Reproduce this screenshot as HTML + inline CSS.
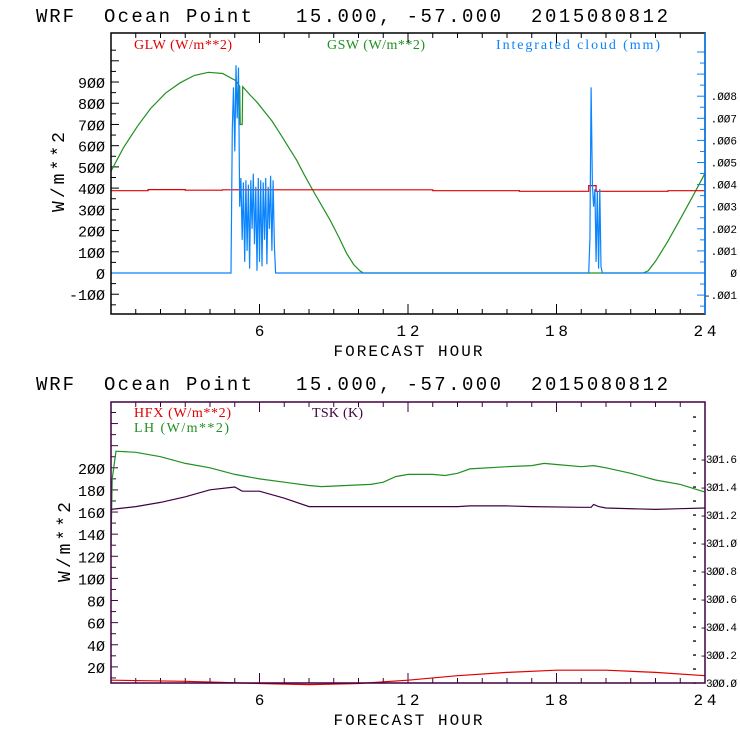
<!DOCTYPE html>
<html><head><meta charset="utf-8"><style>
html,body{margin:0;padding:0;background:#fff;}
svg{display:block;}
text{font-family:"Liberation Mono",monospace;}
.ser{font-family:"Liberation Serif",serif;}
</style></head><body>
<svg id="s" width="740" height="740" viewBox="0 0 740 740">
<g id="g1"></g>
<g id="g2"></g>
</svg>
<script>
// ---- top chart data ----
const glwHours=[0,1.5,1.5,3,3,4.5,4.5,13,13,16.5,16.5,19.3,19.3,19.6,19.6,22.5,22.5,24];
const glwVals=[388,388,393,393,390,390,392,392,388,388,385,385,412,412,385,385,388,388];
const gswHours=[0,0.5,1.07,1.6,2.22,2.8,3.37,3.94,4.51,5.03,5.2,5.22,5.3,5.32,5.62,5.9,6.15,6.5,6.83,7.15,7.5,7.8,8.15,8.5,8.85,9.2,9.52,9.8,10.06,10.2,21.5,21.7,22,22.5,23,23.5,24];
const gswVals=[480,590,692,775,849,897,931,946,940,907,880,700,700,878,839,805,768,717,658,597,532,465,391,320,250,170,93,40,10,0,0,10,55,150,255,360,470];
const cloudHours=[0,4.85,4.9,4.95,5.0,5.05,5.1,5.15,5.2,5.25,5.3,5.35,5.4,5.45,5.5,5.55,5.6,5.65,5.7,5.75,5.8,5.85,5.9,5.95,6.0,6.05,6.1,6.15,6.2,6.25,6.3,6.35,6.4,6.45,6.5,6.55,6.6,6.65,19.3,19.35,19.4,19.45,19.5,19.55,19.6,19.65,19.7,19.75,19.8,19.85,24];
const cloudVals=[0,0,.0065,.0084,.0055,.0094,.0070,.0093,.0030,.0043,.0015,.0041,.0005,.0042,.0010,.0040,.0002,.0042,.0020,.0045,.0013,.0039,.0001,.0043,.0005,.0042,.0003,.0041,.0015,.0043,.0004,.0039,.0020,.0044,.0010,.0042,.0012,0,0,.0015,.0084,.0040,.0030,.0038,.0005,.0037,.0002,.0038,.0003,0,0];
const topLeftTicks=[-100,0,100,200,300,400,500,600,700,800,900];
const topRightTicks=[-0.001,0,0.001,0.002,0.003,0.004,0.005,0.006,0.007,0.008];
const topRightLabels=["-.001","0",".001",".002",".003",".004",".005",".006",".007",".008"];
const xTicks=[6,12,18,24];
// ---- bottom chart data ----
const hfxHours=[0,3,6,8,10,12,14,16,18,19.4,20,22,24];
const hfxVals=[8,7,5,4,5,8,12,15,17,17,17,15,12];
const lhHours=[0,0.05,0.2,1,2,3,4,5,5.5,6,7,8,8.5,9.5,10.5,11,11.5,12,13,13.5,14,14.5,16,17,17.5,18,19,19.5,20,21,22,23,24];
const lhVals=[130,190,215,214,210,204,200,194,192,190,187,184,183,184,185,187,192,194,194,193,195,199,201,202,204,203,201,202,200,195,189,185,178];
const tskHours=[0,1,2,3,4,5,5.3,6,7,8,10,14,14.5,16,17,19,19.4,19.5,19.7,20,22,23,24];
const tskVals=[301.24,301.26,301.29,301.33,301.38,301.40,301.37,301.37,301.32,301.26,301.26,301.26,301.265,301.265,301.26,301.255,301.255,301.275,301.26,301.25,301.24,301.245,301.25];
const botLeftTicks=[20,40,60,80,100,120,140,160,180,200];
const botRightTicks=[300.0,300.2,300.4,300.6,300.8,301.0,301.2,301.4,301.6];
const botRightLabels=["300.0","-300.2","-300.4","-300.6","-300.8","-301.0","-301.2","-301.4","-301.6"];

const NS="http://www.w3.org/2000/svg";
function mk(parent,tag,attrs){const e=document.createElementNS(NS,tag);for(const k in attrs)e.setAttribute(k,attrs[k]);parent.appendChild(e);return e;}
function txt(parent,x,y,s,size,fill,len,anchor,cls){const t=mk(parent,'text',{x:x,y:y,'font-size':size,fill:fill});if(len)t.setAttribute('textLength',len);if(anchor)t.setAttribute('text-anchor',anchor);if(cls)t.setAttribute('class',cls);t.textContent=s;return t;}
const X0=111,X1=705;
const xs=h=>X0+h*(X1-X0)/24;
function line(g,hours,vals,ys,color,name){
  const p=mk(g,'polyline',{points:hours.map((h,i)=>xs(h).toFixed(1)+','+ys(vals[i]).toFixed(1)).join(' '),fill:'none',stroke:color,'stroke-width':1.2});
  
  
}
function title(g,y0){
  const t1=txt(g,36,y0,'WRF',19,'#000',38);
  
  const t2=txt(g,104,y0,'Ocean Point',19,'#000',148);
  
  const t3=txt(g,296,y0,'15.000, -57.000',19,'#000',205);
  
  const t4=txt(g,531,y0,'2015080812',19,'#000',137);
  
}
function xaxis(g,top,bot,color){
  for(let h=1;h<24;h++){
    const L=(h%6==0)?10:5;
    mk(g,'line',{x1:xs(h),x2:xs(h),y1:bot,y2:bot-L,stroke:color,'stroke-width':1});
    mk(g,'line',{x1:xs(h),x2:xs(h),y1:top,y2:top+L,stroke:color,'stroke-width':1});
  }
  xTicks.forEach(h=>{const t=txt(g,xs(h),bot+22,String(h),16,'#000',h>9?23:null,'middle');
    });
  const xt=txt(g,408,bot+42,'FORECAST HOUR',16,'#000',149,'middle');
  
}
// ===== TOP =====
const g1=document.getElementById('g1');
const T0=33,T1=314;
const y1=v=>273-v*0.2122;
const y1r=v=>273-v*22100;
title(g1,22);
xaxis(g1,T0,T1,'#000');
for(let v=-150;v<=1050;v+=50){const y=y1(v);if(y<T0||y>T1)continue;mk(g1,'line',{x1:X0,x2:X0+(v%100==0?8:5),y1:y,y2:y,stroke:'#000'});}
topLeftTicks.forEach(v=>{const s=String(v).replace(/0/g,'Ø');const t=txt(g1,105,y1(v)+6,s,15,'#000',s.length*9,'end');
  });
for(let v=-0.0015;v<=0.0105;v+=0.0005){const y=y1r(v);if(y<T0+2||y>T1-2)continue;mk(g1,'line',{x1:X1,x2:X1-(Math.round(v*2000)%2==0?8:5),y1:y,y2:y,stroke:'#0a84ff'});}
topRightTicks.forEach((v,i)=>{const s=topRightLabels[i].replace(/0/g,'Ø');const t=txt(g1,737,y1r(v)+4,s,11,'#000',s.length*6.6,'end');
  });
let yt=txt(g1,0,0,'W/m**2',18,'#000',80,'middle');yt.setAttribute('transform','translate(64,172) rotate(-90)');

line(g1,gswHours,gswVals,y1,'#209020','gsw-line');
line(g1,glwHours,glwVals,y1,'#e00000','glw-line');
line(g1,cloudHours,cloudVals,y1r,'#0a84ff','cloud-line');
mk(g1,'rect',{x:X0,y:T0,width:X1-X0,height:T1-T0,fill:'none',stroke:'#000','stroke-width':1.5});
mk(g1,'line',{x1:X1,x2:X1,y1:T0,y2:T1,stroke:'#0a84ff','stroke-width':1.5});
let l=txt(g1,134,49,'GLW (W/m**2)',14,'#e00000',98,null,'ser');
l=txt(g1,327,49,'GSW (W/m**2)',14,'#209020',98,null,'ser');
l=txt(g1,496,49,'Integrated cloud (mm)',14,'#0a84ff',164,null,'ser');
// ===== BOTTOM =====
const g2=document.getElementById('g2');
const B0=402,B1=683;
const y2=v=>689-v*1.106;
const y2r=v=>683-(v-300)*140;
title(g2,390);
xaxis(g2,B0,B1,'#400040');
for(let v=10;v<=250;v+=10){const y=y2(v);if(y<B0||y>B1)continue;mk(g2,'line',{x1:X0,x2:X0+(v%20==0?7:5),y1:y,y2:y,stroke:'#400040'});}
botLeftTicks.forEach(v=>{const s=String(v).replace(/0/g,'Ø');const t=txt(g2,105,y2(v)+6,s,15,'#000',s.length*9,'end');
  });
for(let v=300.0;v<=301.95;v+=0.1){const y=y2r(v);if(y<B0+2||y>B1)continue;mk(g2,'rect',{x:693,y:y-0.6,width:3,height:1.3,fill:'#000'});}
botRightTicks.forEach((v,i)=>{const s=botRightLabels[i].replace(/0/g,'Ø');const t=txt(g2,737,y2r(v)+4,s,11,'#000',s.length*6.2,'end');
  });
yt=txt(g2,0,0,'W/m**2',18,'#000',80,'middle');yt.setAttribute('transform','translate(70,542) rotate(-90)');

line(g2,lhHours,lhVals,y2,'#209020','lh-line');
line(g2,tskHours,tskVals,y2r,'#400040','tsk-line');
line(g2,hfxHours,hfxVals,y2,'#e00000','hfx-line');
mk(g2,'rect',{x:X0,y:B0,width:X1-X0,height:B1-B0,fill:'none',stroke:'#400040','stroke-width':1.5});
l=txt(g2,134,417,'HFX (W/m**2)',14,'#e00000',97,null,'ser');
l=txt(g2,134,432,'LH  (W/m**2)',14,'#209020',95,null,'ser');
l=txt(g2,312,417,'TSK (K)',14,'#400040',51,null,'ser');
</script>
</body></html>
